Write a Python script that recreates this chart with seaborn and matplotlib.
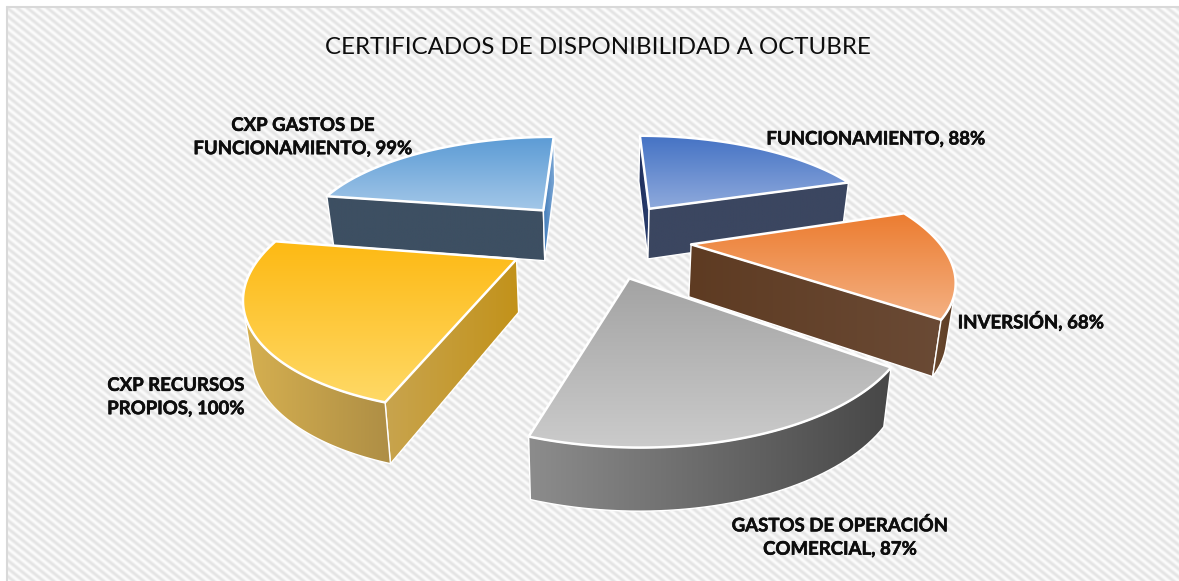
import numpy as np
import matplotlib
matplotlib.use('Agg')
import matplotlib.pyplot as plt
import matplotlib.patheffects as pe
from matplotlib.patches import Polygon
import seaborn as sns

title = 'CERTIFICADOS DE DISPONIBILIDAD A OCTUBRE'
categories = ['FUNCIONAMIENTO', 'INVERSIÓN', 'GASTOS DE OPERACIÓN COMERCIAL',
              'CXP RECURSOS PROPIOS', 'CXP GASTOS DE FUNCIONAMIENTO']
values = [88, 68, 87, 100, 99]
labels = ['FUNCIONAMIENTO, 88%', 'INVERSIÓN, 68%', 'GASTOS DE OPERACIÓN\nCOMERCIAL, 87%',
          'CXP RECURSOS\nPROPIOS, 100%', 'CXP GASTOS DE\nFUNCIONAMIENTO, 99%']

# pixel position of each label
label_pos = [(876, 139), (1031, 321), (840, 537), (176, 397), (303, 137)]

# top gradient, arc side, start face, end face
styles = [
    dict(top=['#4472C4', '#8FAADC'], arc=['#2F3B55', '#3B4560'], start=['#1F2F5C', '#2C4070'], end=['#3B4660', '#3B4660']),
    dict(top=['#EC7C30', '#F4B183'], arc=['#6B4A30', '#5A3A22'], start=['#5F3D26', '#6A4A35'], end=['#5E3B22', '#6A4A35']),
    dict(top=['#A3A3A3', '#CBCBCB'], arc=['#8C8C8C', '#474747'], start=['#666666', '#666666'], end=['#888888', '#888888']),
    dict(top=['#FDB913', '#FFD966'], arc=['#D6B050', '#AE8E45'], start=['#C8A44E', '#C2921A'], end=['#C8A44E', '#C8A44E']),
    dict(top=['#5B9BD5', '#A3C7E8'], arc=['#7FA9D6', '#3F7AB8'], start=['#3D4F62', '#3D4F62'], end=['#3F7AB8', '#7FA9D6']),
]
draw_order = [4, 0, 1, 3, 2]

# projection of the pie plane
cx, cy = 599, 238
scale_x, scale_y = 252, 106
persp = 0.25
explode = 0.365
radius = 0.975
depth = 52


def project(u, v, z=0):
    s = 1 / (1 + persp * v)
    x = cx + scale_x * u * s * (1 - 0.025 * z)
    y = cy - scale_y * v * s + depth * z * np.sqrt(s)
    return np.column_stack([x, y])


def area(pts):
    x, y = pts[:, 0], pts[:, 1]
    return 0.5 * np.sum(x * np.roll(y, -1) - np.roll(x, -1) * y)


sns.set_theme(style='white')
plt.rcParams['font.family'] = ['Lato', 'DejaVu Sans']

fig = plt.figure(figsize=(11.79, 5.81), dpi=100)
ax = fig.add_axes([0, 0, 1, 1])
ax.set_axis_off()

# striped chart area
xx, yy = np.meshgrid(np.arange(8, 1179), np.arange(8, 581))
stripes = 0.5 + 0.5 * np.sin(2 * np.pi * (xx - 1.25 * yy) / 10)
ax.imshow(stripes, extent=(8, 1179, 581, 8), cmap=sns.blend_palette(['#E4E4E4', '#FCFCFC'], as_cmap=True),
          aspect='auto', zorder=0)
ax.plot([7, 7], [581, 7], color='#D9D9D9', lw=1.5, zorder=1)
ax.plot([7, 1179], [7, 7], color='#D9D9D9', lw=1.5, zorder=1)

z = [2]


def gradient_face(pts, colors, vertical=False, edge_lw=1.0):
    x0, x1 = pts[:, 0].min(), pts[:, 0].max()
    y0, y1 = pts[:, 1].min(), pts[:, 1].max()
    ramp = np.linspace(0, 1, 256)
    ramp = ramp[:, None] if vertical else ramp[None, :]
    im = ax.imshow(ramp, extent=(x0, x1, y1, y0), cmap=sns.blend_palette(colors, as_cmap=True),
                   aspect='auto', vmin=0, vmax=1, zorder=z[0])
    patch = Polygon(pts, closed=True, fc='none', ec='white', lw=edge_lw, zorder=z[0] + 0.5, joinstyle='round')
    ax.add_patch(patch)
    im.set_clip_path(patch)
    z[0] += 1


angles = np.cumsum([0] + values) / sum(values) * 2 * np.pi

for i in draw_order:
    t0, t1 = angles[i], angles[i + 1]
    mid = (t0 + t1) / 2
    tu, tv = explode * np.sin(mid), explode * np.cos(mid)
    th = np.linspace(t0, t1, 80)
    au, av = tu + radius * np.sin(th), tv + radius * np.cos(th)
    st = styles[i]

    top_arc = project(au, av)
    low_arc = project(au, av, 1)
    tip_top = project(np.array([tu]), np.array([tv]))
    tip_low = project(np.array([tu]), np.array([tv]), 1)

    # radial faces, only the ones looking at the viewer
    face0 = np.vstack([tip_top, top_arc[:1], low_arc[:1], tip_low])
    face1 = np.vstack([top_arc[-1:], tip_top, tip_low, low_arc[-1:]])
    if area(face0) < 0:
        gradient_face(face0, st['start'])
    if area(face1) < 0:
        gradient_face(face1, st['end'])

    # outer wall, visible part of the arc
    seen = [area(np.vstack([top_arc[k], top_arc[k + 1], low_arc[k + 1], low_arc[k]])) < 0
            for k in range(len(th) - 1)]
    idx = np.flatnonzero(seen)
    if len(idx):
        a, b = idx[0], idx[-1] + 2
        gradient_face(np.vstack([top_arc[a:b], low_arc[a:b][::-1]]), st['arc'])

    gradient_face(np.vstack([tip_top, top_arc]), st['top'], vertical=True, edge_lw=1.8)

for text, (x, y) in zip(labels, label_pos):
    t = ax.text(x, y, text, ha='center', va='center', fontsize=13.4, fontweight='bold',
                color='#0D0D0D', linespacing=1.45, zorder=200)
    t.set_path_effects([pe.withStroke(linewidth=0.4, foreground='#0D0D0D')])
ax.text(598, 48, title, ha='center', va='center', fontsize=17.3, color='#0D0D0D', zorder=200)

ax.set_xlim(0, 1179)
ax.set_ylim(581, 0)
fig.savefig('out.png', dpi=100)
